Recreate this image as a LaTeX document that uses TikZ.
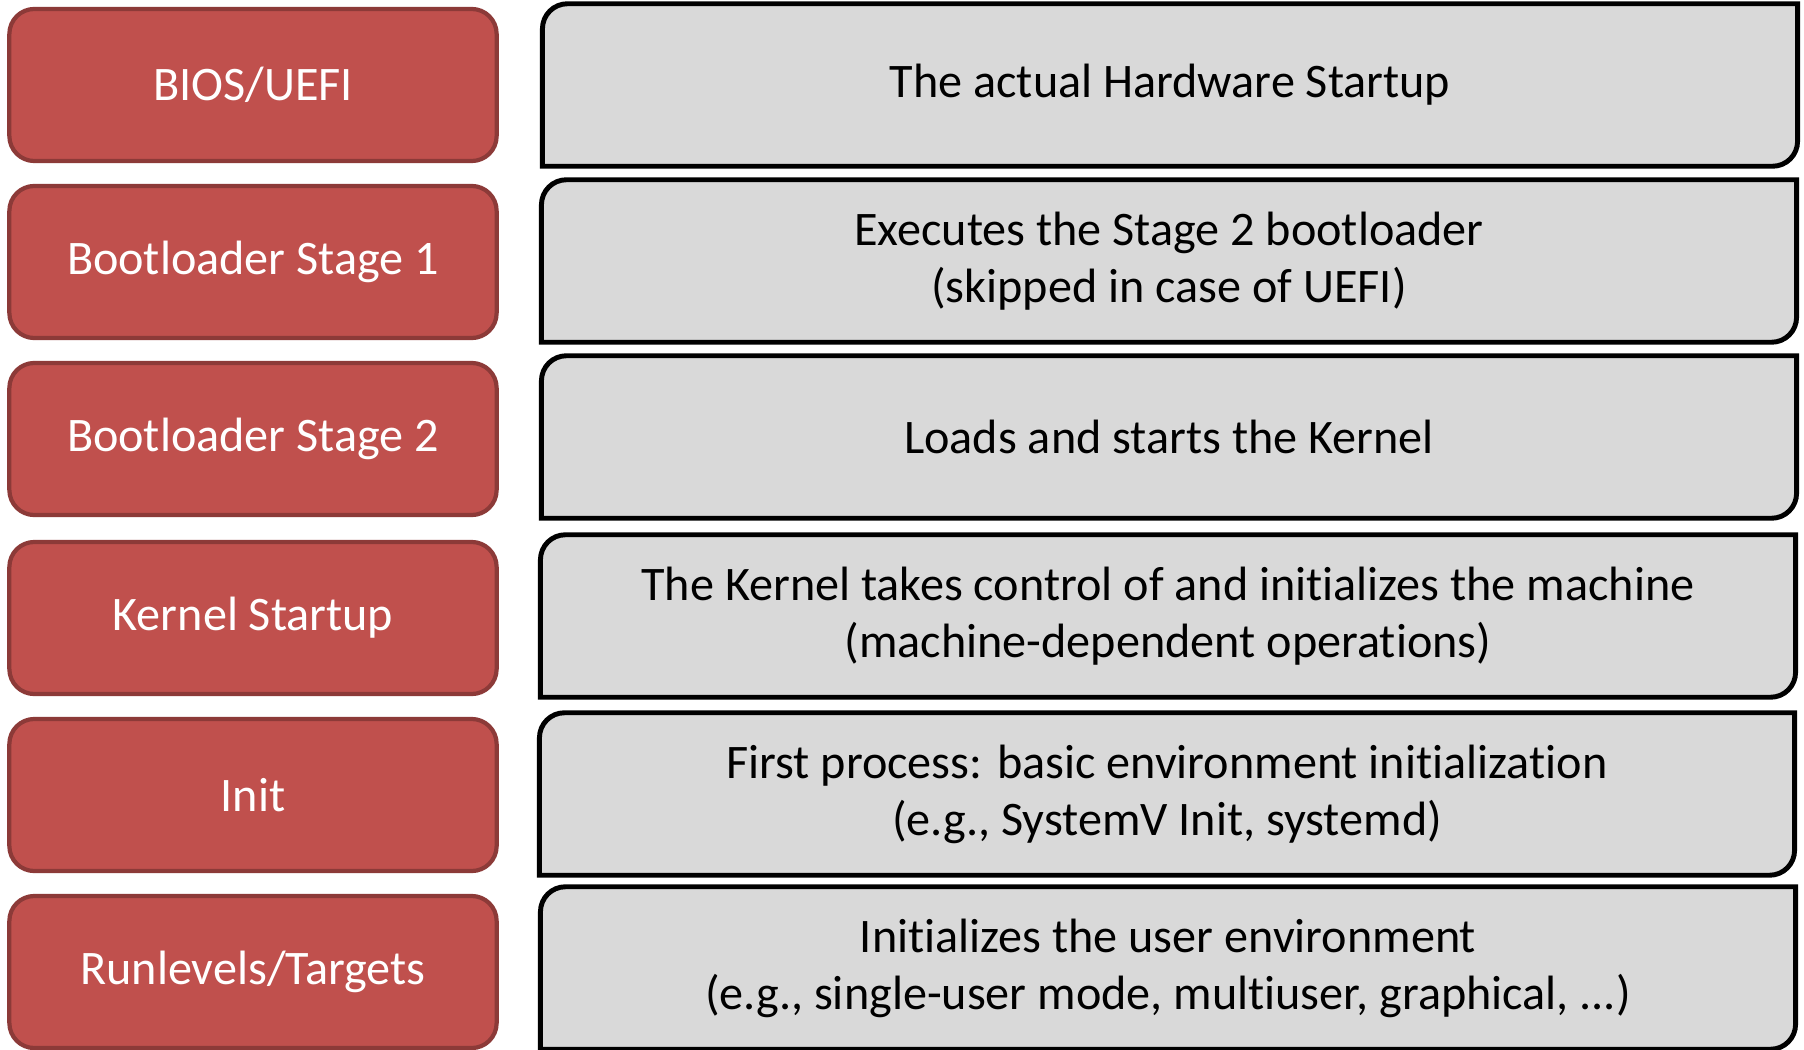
\documentclass[tikz,border=0pt]{standalone}
\usepackage{fontspec}
\setmainfont[RawFeature={-liga,-clig,-calt,-dlig}]{Carlito}
\usetikzlibrary{backgrounds}
\definecolor{stagered}{HTML}{C0504D}
\definecolor{stageborder}{HTML}{8C3A38}
\definecolor{descgray}{HTML}{D9D9D9}

\begin{document}
\begin{tikzpicture}[x=0.01cm,y=0.01cm]
    % Stili per i blocchi
    \tikzset{
        stage_box/.style={
            draw=stageborder, % Bordo scuro
            fill=stagered, % Sfondo rosso
            text=white,
            line width=1.2pt,
            rounded corners=0.25cm,
            minimum width=4.87cm, % Larghezza del blocco
            minimum height=1.52cm, % Altezza del blocco
            align=center,
            font=\fontsize{13.7}{16.2}\selectfont
        },
        desc_box/.style={
            text=black,
            minimum width=12.53cm, % Larghezza della descrizione
            minimum height=1.61cm,
            align=center,
            font=\fontsize{13.7}{16.2}\selectfont
        },
        desc_shape/.style={
            draw=black,
            fill=descgray,
            line width=1.4pt
        }
    }

    \useasboundingbox (0,0) rectangle (1804,-1049);

    % Fasi di avvio
    \node[stage_box] (stage1) at (253,-85) {BIOS/UEFI};
    \node[stage_box] (stage2) at (253,-262) {Bootloader Stage 1};
    \node[stage_box] (stage3) at (253,-439) {Bootloader Stage 2};
    \node[stage_box] (stage4) at (253,-618) {Kernel Startup};
    \node[stage_box] (stage5) at (253,-795) {Init};
    \node[stage_box] (stage6) at (253,-972) {Runlevels/Targets};

    % Descrizioni
    \node[desc_box] (desc1) at (1170,-85) {The actual Hardware Startup};
    \node[desc_box] (desc2) at (1169,-261) {Executes the Stage 2 bootloader\\(skipped in case of UEFI)};
    \node[desc_box] (desc3) at (1169,-437) {Loads and starts the Kernel};
    \node[desc_box] (desc4) at (1168,-616) {The Kernel takes control of and initializes the machine\\(machine-dependent operations)};
    \node[desc_box] (desc5) at (1167,-794) {First process: basic environment initialization\\(e.g., SystemV Init, systemd)};
    \node[desc_box] (desc6) at (1168,-968) {Initializes the user environment\\(e.g., single-user mode, multiuser, graphical, ...)};

    % Cornici con angoli arrotondati in diagonale
    \begin{scope}[on background layer]
        \foreach \d in {desc1,desc2,desc3,desc4,desc5,desc6}
            \draw[desc_shape] (\d.south west) -- ([yshift=-0.25cm]\d.north west)
                arc (180:90:0.25cm) -- (\d.north east)
                -- ([yshift=0.25cm]\d.south east) arc (0:-90:0.25cm) -- cycle;
    \end{scope}

\end{tikzpicture}
\end{document}
